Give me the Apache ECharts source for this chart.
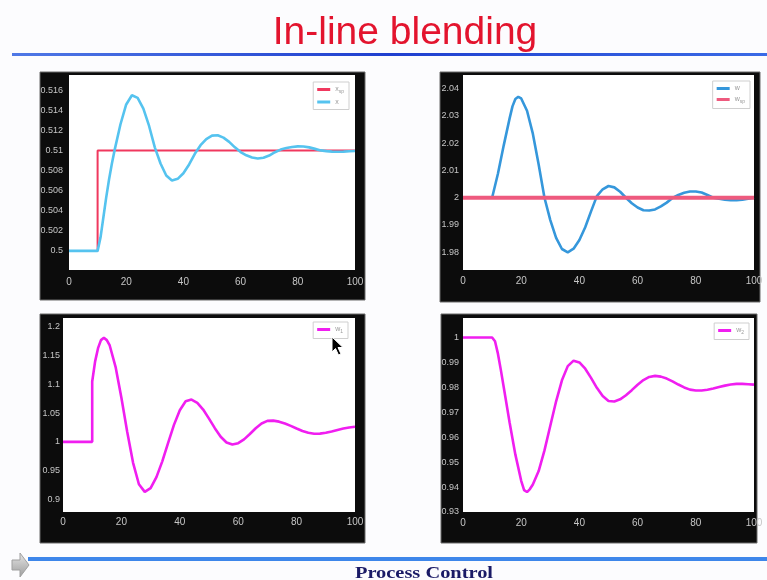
<!DOCTYPE html>
<html>
<head>
<meta charset="utf-8">
<script src="https://cdn.jsdelivr.net/npm/echarts@6/dist/echarts.min.js"></script>
<style>
html,body{margin:0;padding:0;background:#fcfcfe;}
#chart{width:767px;height:580px;}
</style>
</head>
<body>
<div id="chart"></div>
<script>
// ---- data ----
const titleText = 'In-line blending';
const footerText = 'Process Control';
const xTicks = [0, 20, 40, 60, 80, 100];

// Panel 1 : set point step and response x
const xspTime = [0, 10, 10, 100];
const xspVals = [0.5, 0.5, 0.51, 0.51];
const xTime = [0, 10, 11, 12, 13, 14, 15, 16, 18, 20, 22, 24, 26, 28, 30, 32, 34, 36, 38, 40, 42, 44, 46, 48, 50, 52, 54, 56, 58, 60, 62, 64, 66, 68, 70, 72, 74, 76, 78, 80, 82, 84, 86, 88, 90, 92, 94, 96, 98, 100];
const xVals = [0.5, 0.5, 0.5013, 0.5033, 0.5053, 0.5071, 0.5087, 0.5101, 0.5126, 0.51457, 0.51548, 0.51522, 0.51415, 0.51243, 0.5103, 0.50869, 0.5075, 0.507, 0.50717, 0.50773, 0.5086, 0.50966, 0.51052, 0.51113, 0.51147, 0.5115, 0.51127, 0.51085, 0.5103, 0.50983, 0.50951, 0.50929, 0.5092, 0.50927, 0.50949, 0.50982, 0.51008, 0.51023, 0.51034, 0.5104, 0.51038, 0.5103, 0.51015, 0.51, 0.50993, 0.50988, 0.50987, 0.50988, 0.50991, 0.50994];

// Panel 2 : w and its set point
const wTime = [0, 10, 12, 14, 16, 17, 18, 19, 20, 22, 24, 26, 28, 30, 32, 34, 36, 38, 40, 42, 44, 46, 48, 50, 52, 54, 56, 58, 60, 62, 64, 66, 68, 70, 72, 74, 76, 78, 80, 82, 84, 86, 88, 90, 92, 94, 96, 98, 100];
const wVals = [2.0, 2.0, 2.0088, 2.0192, 2.029, 2.0335, 2.0362, 2.037, 2.0364, 2.0319, 2.0235, 2.0122, 2.0, 1.9918, 1.9853, 1.9812, 1.98, 1.9813, 1.9845, 1.9892, 1.995, 2.0006, 2.0031, 2.0043, 2.0038, 2.0022, 2.0, 1.998, 1.9964, 1.9954, 1.9953, 1.9957, 1.9968, 1.9982, 1.9999, 2.001, 2.0018, 2.0023, 2.0023, 2.0019, 2.001, 2.0, 1.9996, 1.9993, 1.9991, 1.9991, 1.9993, 1.9996, 2.0];
const wspTime = [0, 100];
const wspVals = [2.0, 2.0];

// Panel 3 : w1
const w1Time = [0, 10, 10, 11, 12, 13, 14, 15, 16, 18, 20, 22, 24, 26, 28, 30, 32, 34, 36, 38, 40, 42, 44, 46, 48, 50, 52, 54, 56, 58, 60, 62, 64, 66, 68, 70, 72, 74, 76, 78, 80, 82, 84, 86, 88, 90, 92, 94, 96, 98, 100];
const w1Vals = [1.0, 1.0, 1.105, 1.14, 1.163, 1.177, 1.181, 1.177, 1.1677, 1.1305, 1.0768, 1.0172, 0.9635, 0.9263, 0.913, 0.9196, 0.9387, 0.9661, 0.9982, 1.0296, 1.0551, 1.0706, 1.0736, 1.0679, 1.0562, 1.0405, 1.0238, 1.0089, 0.9989, 0.9953, 0.9977, 1.0044, 1.0137, 1.0237, 1.032, 1.0366, 1.037, 1.0352, 1.032, 1.0278, 1.0232, 1.019, 1.0159, 1.0142, 1.0143, 1.0158, 1.0182, 1.0208, 1.0232, 1.025, 1.0262];

// Panel 4 : w2
const w2Time = [0, 10, 11, 12, 13, 14, 16, 18, 20, 21, 22, 23, 24, 26, 28, 30, 32, 34, 36, 38, 40, 42, 44, 46, 48, 50, 52, 54, 56, 58, 60, 62, 64, 66, 68, 70, 72, 74, 76, 78, 80, 82, 84, 86, 88, 90, 92, 94, 96, 98, 100];
const w2Vals = [1.0, 1.0, 0.9985, 0.9935, 0.987, 0.98, 0.966, 0.953, 0.9425, 0.9388, 0.938, 0.9392, 0.941, 0.9464, 0.9547, 0.9646, 0.9744, 0.9828, 0.9885, 0.9907, 0.99, 0.98745, 0.9838, 0.9798, 0.9765, 0.97454, 0.97434, 0.97519, 0.97682, 0.97886, 0.98102, 0.98292, 0.98417, 0.98458, 0.98429, 0.9835, 0.98238, 0.98112, 0.97995, 0.97908, 0.9787, 0.97875, 0.97905, 0.97954, 0.98011, 0.98068, 0.98113, 0.98137, 0.9814, 0.98125, 0.9811];

// ---- helpers ----
function pairs(t, v) { return t.map((x, i) => [x, v[i]]); }
function labelEvery(step) {
  return function (v) {
    const r = v / step;
    if (Math.abs(r - Math.round(r)) > 1e-6) return '';
    return String(parseFloat((Math.round(r) * step).toFixed(4)));
  };
}
const LABEL_FONT = '"Liberation Sans", Arial, sans-serif';

const grids = [
  { left: 69, top: 75, width: 286, height: 195 },
  { left: 463, top: 75, width: 291, height: 195 },
  { left: 63, top: 318, width: 292, height: 194 },
  { left: 463, top: 318, width: 291, height: 194 }
];
const yCfg = [
  { min: 0.4981, max: 0.5175, interval: 0.0001, step: 0.002, margin: 6 },
  { min: 1.9735, max: 2.045, interval: 0.0005, step: 0.01, margin: 4 },
  { min: 0.878, max: 1.2155, interval: 0.001, step: 0.05, margin: 3 },
  { min: 0.93, max: 1.0078, interval: 0.001, step: 0.01, margin: 4 }
];
const xMargins = [7, 6, 5, 6];

const frames = [
  { x: 40, y: 72, width: 325, height: 228 },
  { x: 440, y: 72, width: 320, height: 230 },
  { x: 40, y: 314, width: 325, height: 229 },
  { x: 441, y: 314, width: 316, height: 229 }
];

const legendBase = {
  orient: 'vertical',
  icon: 'rect',
  itemWidth: 13,
  itemHeight: 3,
  itemGap: 4,
  padding: [4, 5, 4, 4],
  backgroundColor: '#ffffff',
  borderColor: '#cfcfcf',
  borderWidth: 1,
  borderRadius: 0,
  formatter: function (name) {
    const p = name.split('_');
    return p.length > 1 ? '{m|' + p[0] + '}{s|' + p[1] + '}' : '{m|' + name + '}';
  },
  textStyle: {
    color: '#9a9a9a', fontSize: 7, fontFamily: LABEL_FONT,
    rich: { m: { fontSize: 7, color: '#9a9a9a' }, s: { fontSize: 5, color: '#9a9a9a', padding: [5, 0, 0, 0] } }
  }
};

const chart = echarts.init(document.getElementById('chart'), null, { renderer: 'canvas' });

const graphic = [];
frames.forEach(f => {
  graphic.push({ type: 'rect', z: -10, shape: { x: f.x, y: f.y, width: f.width, height: f.height },
    style: { fill: '#0c0c0c', stroke: '#6a6a6a', lineWidth: 1 } });
});
// header
graphic.push({ type: 'text', z: 5, x: 405, y: 33,
  style: { text: titleText, fill: '#e3142e', font: '39px "Liberation Sans", Arial, sans-serif',
    align: 'center', verticalAlign: 'middle', textAlign: 'center', textVerticalAlign: 'middle' } });
graphic.push({ type: 'rect', z: 5, shape: { x: 12, y: 53, width: 755, height: 3 },
  style: { fill: new echarts.graphic.LinearGradient(0, 0, 1, 0, [
    { offset: 0, color: '#4f78e6' }, { offset: 0.5, color: '#1f3fcf' }, { offset: 1, color: '#3a6ae6' }]) } });
// footer
graphic.push({ type: 'rect', z: 5, shape: { x: 28, y: 557, width: 739, height: 4 },
  style: { fill: '#3d86ea' } });
graphic.push({ type: 'polygon', z: 6,
  shape: { points: [[12, 560], [20, 560], [20, 553], [29, 565], [20, 577], [20, 570], [12, 570]] },
  style: { fill: new echarts.graphic.LinearGradient(0, 0, 0, 1, [
    { offset: 0, color: '#e6e6e6' }, { offset: 1, color: '#9c9c9c' }]), stroke: '#a0a0a0', lineWidth: 1 } });
graphic.push({ type: 'text', z: 5, x: 424, y: 574, scaleX: 1.2,
  style: { text: footerText, fill: '#1a1a66', font: 'bold 17px "Liberation Serif", "Times New Roman", serif',
    align: 'center', verticalAlign: 'middle', textAlign: 'center', textVerticalAlign: 'middle' } });
// mouse cursor in panel 3
graphic.push({ type: 'polygon', z: 20,
  shape: { points: [[332, 337], [332, 352], [335.5, 348.5], [338.5, 355], [341, 354], [338, 347.5], [343, 347.5]] },
  style: { fill: '#000', stroke: '#fff', lineWidth: 1 } });

const option = {
  backgroundColor: '#fcfcfe',
  animation: false,
  graphic: graphic,
  grid: grids.map(g => Object.assign({ show: true, backgroundColor: '#ffffff', borderWidth: 0, containLabel: false }, g)),
  xAxis: grids.map((g, i) => ({
    type: 'value', gridIndex: i, min: xTicks[0], max: xTicks[xTicks.length - 1], interval: xTicks[1] - xTicks[0],
    axisLine: { show: false }, axisTick: { show: false }, splitLine: { show: false },
    axisLabel: { color: '#c6c6c6', fontSize: 10, fontFamily: LABEL_FONT, margin: xMargins[i] }
  })),
  yAxis: yCfg.map((c, i) => ({
    type: 'value', gridIndex: i, min: c.min, max: c.max, interval: c.interval,
    axisLine: { show: false }, axisTick: { show: false }, splitLine: { show: false },
    axisLabel: { color: '#c6c6c6', fontSize: 9, fontFamily: LABEL_FONT, margin: c.margin,
      formatter: labelEvery(c.step), showMinLabel: true, showMaxLabel: true }
  })),
  legend: [
    Object.assign({}, legendBase, { right: 418, top: 82, data: ['x_sp', 'x'] }),
    Object.assign({}, legendBase, { right: 17, top: 81, data: ['w', 'w_sp'] }),
    Object.assign({}, legendBase, { right: 419, top: 322, data: ['w_1'] }),
    Object.assign({}, legendBase, { right: 18, top: 323, data: ['w_2'] })
  ],
  series: [
    { name: 'x_sp', type: 'line', xAxisIndex: 0, yAxisIndex: 0, data: pairs(xspTime, xspVals),
      showSymbol: false, symbol: 'none', lineStyle: { color: '#f0385e', width: 2 }, itemStyle: { color: '#f0385e' }, z: 3 },
    { name: 'x', type: 'line', xAxisIndex: 0, yAxisIndex: 0, data: pairs(xTime, xVals),
      showSymbol: false, symbol: 'none', lineStyle: { color: '#55c3ef', width: 2.6 }, itemStyle: { color: '#55c3ef' }, z: 4 },
    { name: 'w', type: 'line', xAxisIndex: 1, yAxisIndex: 1, data: pairs(wTime, wVals),
      showSymbol: false, symbol: 'none', lineStyle: { color: '#3597db', width: 2.6 }, itemStyle: { color: '#3597db' }, z: 3 },
    { name: 'w_sp', type: 'line', xAxisIndex: 1, yAxisIndex: 1, data: pairs(wspTime, wspVals),
      showSymbol: false, symbol: 'none', lineStyle: { color: '#ee5a7e', width: 4 }, itemStyle: { color: '#ee5a7e' }, z: 4 },
    { name: 'w_1', type: 'line', xAxisIndex: 2, yAxisIndex: 2, data: pairs(w1Time, w1Vals),
      showSymbol: false, symbol: 'none', lineStyle: { color: '#f01ef0', width: 2.6 }, itemStyle: { color: '#f01ef0' }, z: 3 },
    { name: 'w_2', type: 'line', xAxisIndex: 3, yAxisIndex: 3, data: pairs(w2Time, w2Vals),
      showSymbol: false, symbol: 'none', lineStyle: { color: '#f01ef0', width: 2.6 }, itemStyle: { color: '#f01ef0' }, z: 3 }
  ]
};
chart.setOption(option);
</script>
</body>
</html>
